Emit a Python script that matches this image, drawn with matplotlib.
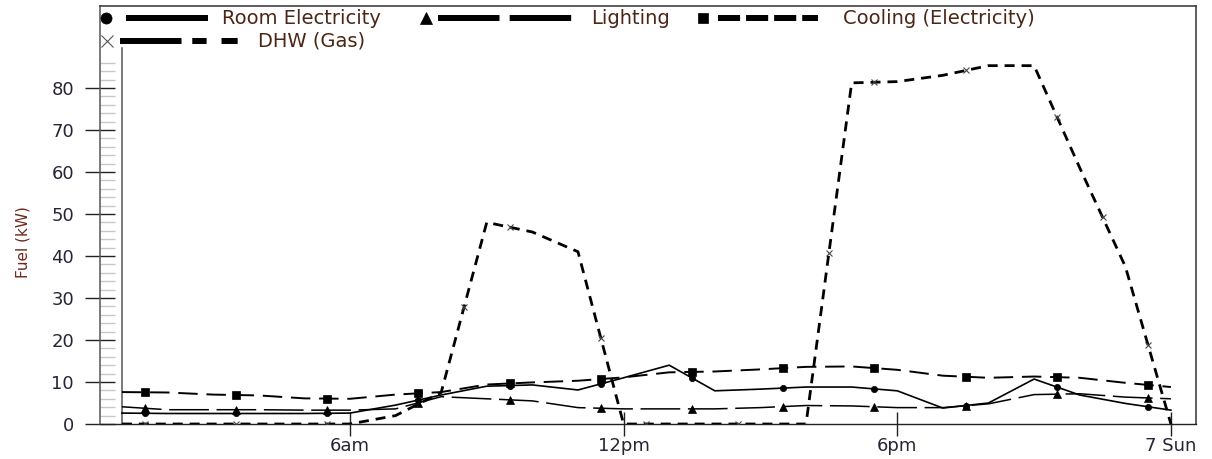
import numpy as np
import matplotlib.pyplot as plt
from matplotlib.lines import Line2D
from matplotlib.ticker import FixedLocator

# hourly values (kW), hour 1 .. 24 (24 = midnight, "7 Sun")
hours = np.arange(1, 25)
room_elec = [2.6, 2.5, 2.5, 2.5, 2.5, 2.6, 4.5, 6.9, 9.0, 9.3, 8.1, 11.0,
             14.0, 7.9, 8.3, 8.8, 8.8, 7.9, 3.8, 5.0, 10.7, 6.9, 4.9, 3.3]
lighting = [4.1, 3.4, 3.4, 3.4, 3.3, 3.3, 3.6, 6.5, 6.0, 5.5, 3.9, 3.6,
            3.6, 3.6, 3.9, 4.4, 4.3, 3.9, 3.9, 4.8, 7.0, 7.2, 6.4, 6.0]
cooling = [7.6, 7.5, 7.0, 6.8, 6.1, 6.0, 7.0, 7.6, 9.4, 9.9, 10.3, 11.1,
           12.3, 12.5, 13.0, 13.6, 13.7, 12.9, 11.5, 11.0, 11.3, 11.0, 9.8, 8.8]
dhw = [0, 0, 0, 0, 0, 0, 2.0, 7.5, 48.0, 45.7, 41.0, 0,
       0, 0, 0, 0, 81.2, 81.5, 83.0, 85.3, 85.3, 61.0, 37.5, 0]

tick_pos = [6, 12, 18, 24]
tick_labels = ["6am", "12pm", "6pm", "7 Sun"]

W, H = 1212, 459
fig = plt.figure(figsize=(W / 100, H / 100), dpi=100)
ax = fig.add_axes([100 / W, 1 - 424 / H, 1096 / W, 418 / H])
ax.set_xlim(0.52, 24.55)
ax.set_ylim(0, 99.5)

lab_col = '#2a2236'
txt_col = '#4b2616'


def draw(vals, ls, lw, marker, ms, mark_idx, mfc='black', mec='black', mew=0.5, z=3):
    v = np.array(vals, dtype=float)
    ax.plot(hours, v, color='black', lw=lw, linestyle=ls, zorder=z,
            solid_joinstyle='miter', dash_capstyle='butt')
    # markers sit half way along the hourly segments
    mx = (hours[:-1] + hours[1:]) / 2
    my = (v[:-1] + v[1:]) / 2
    ax.plot(mx[mark_idx], my[mark_idx], linestyle='none', marker=marker, ms=ms,
            mfc=mfc, mec=mec, mew=mew, zorder=z + 0.5)


every2 = list(range(0, 23, 2))
draw(room_elec, '-', 1.2, 'o', 4.5, every2)
draw(lighting, (0, (26, 5)), 1.1, '^', 6, every2)
draw(cooling, (0, (10, 4.5)), 1.4, 's', 5.5, every2)
draw(dhw, (0, (3.6, 2.5)), 2.0, 'x', 5, [0, 2, 4, 7, 8, 10, 11, 13, 15, 16, 18, 20, 21, 22],
     mec='#444444', mew=0.8, z=4)

# inner axis line
ax.plot([1, 1], [0, 89.5], color='#555555', lw=1.1, zorder=2)

for s in ['top', 'right']:
    ax.spines[s].set_color('#333333')
    ax.spines[s].set_linewidth(1.1)
ax.spines['left'].set_color('#555555')
ax.spines['left'].set_linewidth(1.1)
ax.spines['bottom'].set_color('#222222')
ax.spines['bottom'].set_linewidth(1.0)

ax.set_yticks(range(0, 90, 10))
ax.yaxis.set_minor_locator(FixedLocator([v for v in range(2, 88, 2) if v % 10]))
ax.tick_params(axis='y', which='major', direction='inout', length=21.6, width=1.0,
               color='#222222', pad=7.9, labelsize=13, labelcolor=lab_col)
ax.tick_params(axis='y', which='minor', direction='in', length=10.8, width=1.0,
               color='#c8c8c8')
ax.set_xticks(tick_pos)
ax.set_xticklabels(tick_labels)
ax.tick_params(axis='x', direction='inout', length=17.3, width=1.0, color='#222222',
               pad=1.0, labelsize=13, labelcolor=lab_col)

fig.text(23 / W, 1 - 242 / H, "Fuel (kW)", rotation=90, ha='center', va='center',
         fontsize=11, color='#6e2a1c')


# legend drawn in pixel positions inside the top frame
def fx(x):
    return x / W


def fy(y):
    return 1 - y / H


def legend_item(mx, y, marker, ms, x0, x1, ls, tx, label, mec='black', mew=0.5):
    fig.add_artist(Line2D([fx(x0), fx(x1)], [fy(y), fy(y)], color='black', lw=4.3,
                          linestyle=ls, dash_capstyle='butt', solid_capstyle='butt'))
    fig.add_artist(Line2D([fx(mx)], [fy(y)], marker=marker, ms=ms, color='black',
                          mec=mec, mew=mew, linestyle='none'))
    fig.text(fx(tx), fy(y), label, ha='left', va='center', fontsize=14, color=txt_col)


legend_item(106, 18, 'o', 8, 126, 208, '-', 222, "Room Electricity")
legend_item(426, 18, '^', 8.5, 438, 573, (0, (10.3, 1.7)), 591, "Lighting")
legend_item(703, 18, 's', 7.5, 718, 818, (0, (3.7, 1.0)), 843, "Cooling (Electricity)")
legend_item(107, 41, 'x', 8, 120, 238, (0, (10.3, 1.8, 2.4, 2.5, 2.7, 5)), 258, "DHW (Gas)",
            mec='#555555', mew=0.8)

fig.savefig('out.png', dpi=100)
